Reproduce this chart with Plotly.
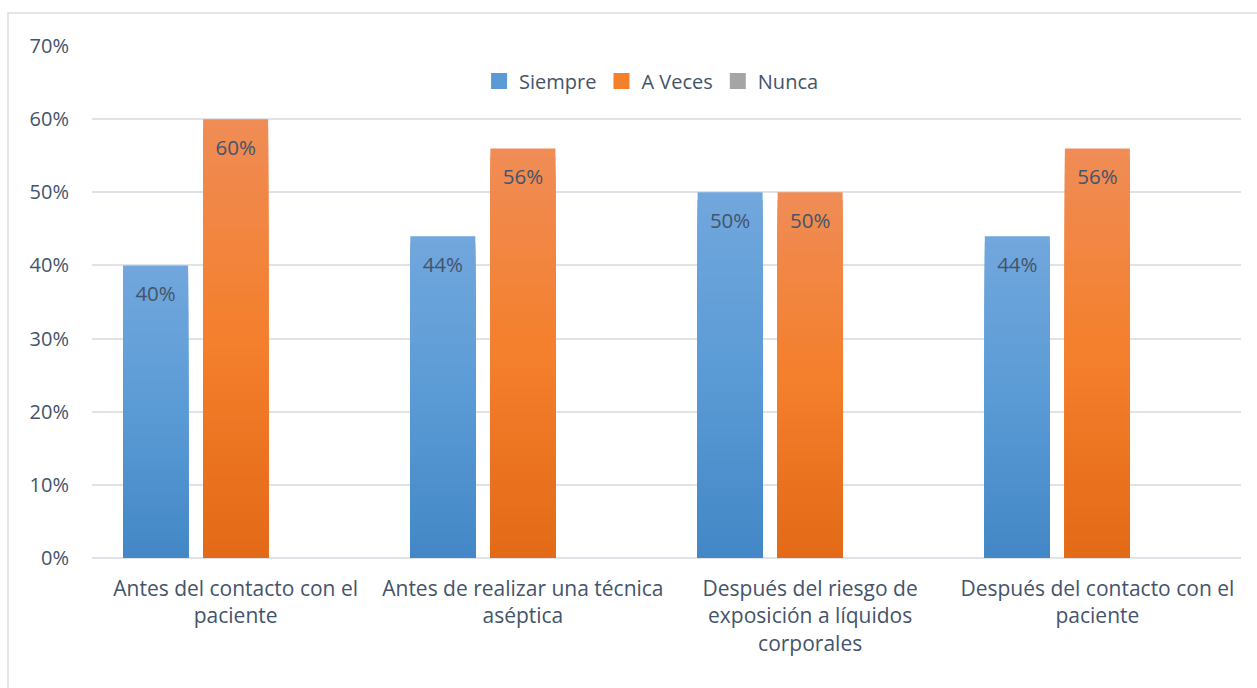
import plotly.graph_objects as go

# Categories and series values (fraction of respondents)
categories = [
    "Antes del contacto con el<br>paciente",
    "Antes de realizar una técnica<br>aséptica",
    "Después del riesgo de<br>exposición a líquidos<br>corporales",
    "Después del contacto con el<br>paciente",
]
siempre = [0.40, 0.44, 0.50, 0.44]
a_veces = [0.60, 0.56, 0.50, 0.56]
nunca = [0.0, 0.0, 0.0, 0.0]

y_ticks = [0, 0.1, 0.2, 0.3, 0.4, 0.5, 0.6, 0.7]

TEXT = "#44546a"
FONT = "Open Sans"
N_SEG = 48          # vertical slices used to render each bar's gradient
Y_MAX = 0.7
LABEL_DROP = 0.0383  # distance of a value label's centre below its bar top (axis units)


def hex_rgb(h):
    h = h.lstrip("#")
    return tuple(int(h[i:i + 2], 16) for i in (0, 2, 4))


def gradient(stops, t):
    """t=0 at bar bottom, t=1 at top; stops = (bottom, middle, top)."""
    b, m, tp = (hex_rgb(s) for s in stops)
    if t < 0.5:
        a, c, u = b, m, t / 0.5
    else:
        a, c, u = m, tp, (t - 0.5) / 0.5
    r = [round(a[i] + (c[i] - a[i]) * u) for i in range(3)]
    return f"rgb({r[0]},{r[1]},{r[2]})"


series = [
    ("Siempre", siempre, ("#4287c6", "#5b9bd5", "#71a7dd"), "1"),
    ("A Veces", a_veces, ("#e36a17", "#f47f2c", "#f08c56"), "2"),
    ("Nunca", nunca, ("#999999", "#a5a5a5", "#b4b4b4"), "3"),
]

fig = go.Figure()

for name, vals, stops, grp in series:
    # Overlapping bars from the axis up, tallest first, so each one only
    # shows its top slice -> smooth vertical gradient without seams.
    for k in range(N_SEG):
        frac = (N_SEG - k) / N_SEG
        t = (N_SEG - k - 0.5) / N_SEG
        fig.add_trace(go.Bar(
            x=categories,
            y=[v * frac for v in vals],
            offsetgroup=grp,
            name=name,
            legendgroup=name,
            showlegend=False,
            marker=dict(color=gradient(stops, t), line=dict(width=0)),
            hoverinfo="skip",
        ))
    # legend entry with a square swatch
    fig.add_trace(go.Scatter(
        x=[None], y=[None], mode="markers", name=name, legendgroup=name,
        marker=dict(symbol="square", size=16, color=stops[1]),
    ))
    if any(v > 0 for v in vals):
        # invisible carrier bar that centres each value label just under the bar top
        fig.add_trace(go.Bar(
            x=categories,
            y=[2 * LABEL_DROP for v in vals],
            base=[v - 2 * LABEL_DROP for v in vals],
            offsetgroup=grp,
            showlegend=False,
            legendgroup=name,
            marker=dict(color="rgba(0,0,0,0)", line=dict(width=0)),
            text=[f"{v:.0%}" for v in vals],
            textposition="inside",
            insidetextanchor="middle",
            textfont=dict(family=FONT, size=20.5, color=TEXT),
            textangle=0,
            hoverinfo="skip",
            name=name,
        ))

fig.update_layout(
    width=1257,
    height=688,
    paper_bgcolor="white",
    plot_bgcolor="white",
    barmode="group",
    bargap=0.164,
    bargroupgap=0.1875,
    margin=dict(l=92, r=16, t=46, b=130),
    font=dict(family=FONT, size=20, color=TEXT),
    legend=dict(
        orientation="h",
        x=0.487,
        y=0.9316,
        xanchor="center",
        yanchor="middle",
        font=dict(family=FONT, size=20, color=TEXT),
        bgcolor="rgba(0,0,0,0)",
        itemwidth=30,
        itemsizing="trace",
        traceorder="normal",
    ),
    xaxis=dict(
        showgrid=False,
        showline=False,
        ticks="",
        tickfont=dict(family=FONT, size=21, color=TEXT),
        ticklabelstandoff=16,
    ),
    yaxis=dict(
        range=[0, Y_MAX],
        tickvals=y_ticks,
        tickformat=".0%",
        showgrid=True,
        gridcolor="#dfe3e8",
        gridwidth=1.5,
        zeroline=True,
        zerolinecolor="#dfe3e8",
        zerolinewidth=1.5,
        showline=False,
        ticks="",
        tickfont=dict(family=FONT, size=20, color=TEXT),
        ticklabelstandoff=22,
    ),
    shapes=[
        dict(
            type="rect", xref="paper", yref="paper",
            x0=-0.0731, x1=1.05, y0=-0.4, y1=1.0645,
            line=dict(color="#d9dde3", width=1.5),
            fillcolor="rgba(0,0,0,0)",
            layer="below",
        )
    ],
)

fig.write_html("out.html")
